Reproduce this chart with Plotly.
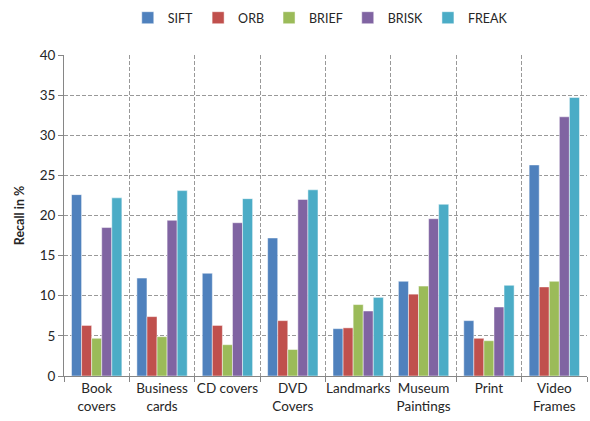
import plotly.graph_objects as go

categories = ["Book<br>covers", "Business<br>cards", "CD covers", "DVD<br>Covers",
              "Landmarks", "Museum<br>Paintings", "Print", "Video<br>Frames"]
sift = [22.6, 12.2, 12.8, 17.2, 5.9, 11.8, 6.9, 26.3]
orb = [6.3, 7.4, 6.3, 6.9, 6.0, 10.2, 4.7, 11.1]
brief = [4.7, 4.9, 3.9, 3.3, 8.9, 11.2, 4.4, 11.8]
brisk = [18.5, 19.4, 19.1, 22.0, 8.1, 19.6, 8.6, 32.3]
freak = [22.2, 23.1, 22.1, 23.2, 9.8, 21.4, 11.3, 34.7]

series = [("SIFT", sift, "#4F81BD"), ("ORB", orb, "#C0504D"), ("BRIEF", brief, "#9BBB59"),
          ("BRISK", brisk, "#8064A2"), ("FREAK", freak, "#4BACC6")]

fig = go.Figure()
for name, vals, col in series:
    fig.add_trace(go.Bar(x=categories, y=vals, name=name, marker_color=col,
                         marker_line=dict(color="rgba(255,255,255,0.6)", width=0.8)))

font = "Lato, Open Sans, Liberation Sans, sans-serif"
grid = "#999999"
fig.update_layout(
    width=590, height=421,
    margin=dict(l=64, r=3, t=50, b=45),
    paper_bgcolor="white", plot_bgcolor="white",
    barmode="group", bargap=0.23, bargroupgap=0,
    font=dict(family=font, size=13, color="#262626"),
    legend=dict(orientation="h", x=0.49, xanchor="center", y=1.115, yanchor="middle",
                font=dict(size=12.5), itemwidth=30, traceorder="normal"),
    xaxis=dict(tickson="boundaries", showgrid=True, griddash="4px,2px", gridcolor=grid,
               gridwidth=1, showline=True, linecolor="#868686", linewidth=1,
               ticks="outside", ticklen=5, tickcolor="#868686", tickangle=0,
               tickfont=dict(size=13.5)),
    yaxis=dict(range=[0, 40], dtick=5, showgrid=True, griddash="4px,2px", gridcolor=grid,
               showline=True, linecolor="#868686", linewidth=1, ticks="outside",
               ticklen=5, tickcolor="#868686", zeroline=False, tickfont=dict(size=13.5),
               title=dict(text="<b>Recall in %</b>", font=dict(size=12.5), standoff=12)),
)
fig.write_html("out.html")
